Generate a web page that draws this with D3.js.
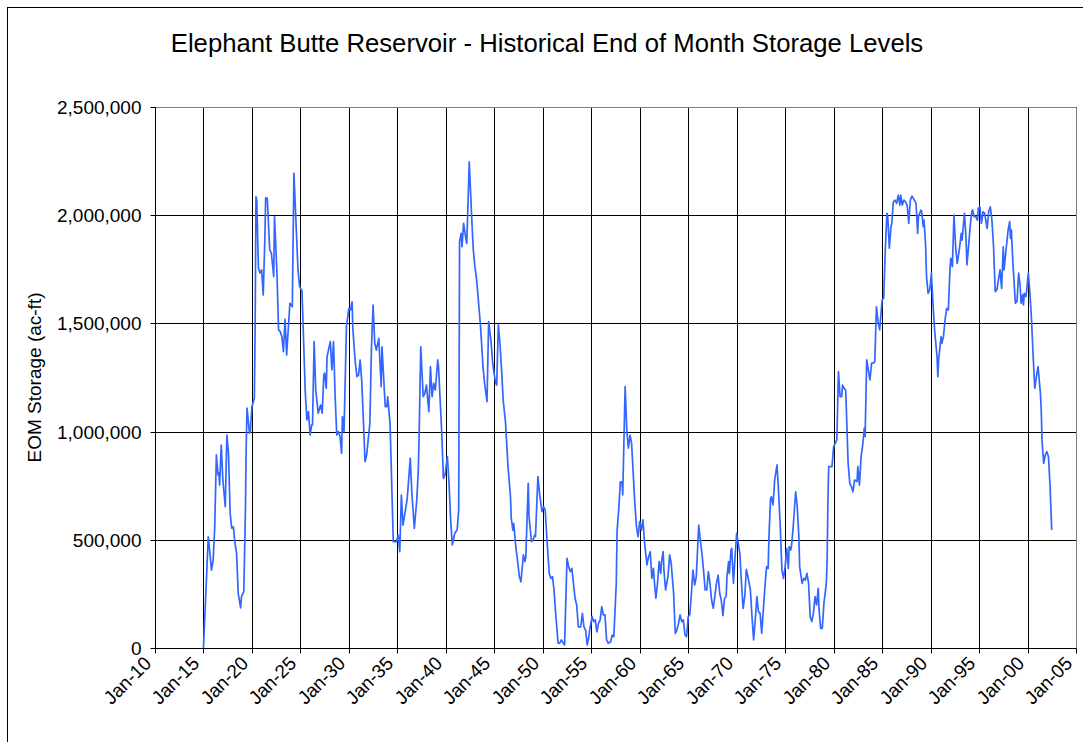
<!DOCTYPE html>
<html>
<head>
<meta charset="utf-8">
<script src="https://cdn.jsdelivr.net/npm/d3@7"></script>
<style>
  html, body { margin: 0; padding: 0; background: #fff; }
  svg { display: block; }
  text { font-family: "Liberation Sans", Arial, sans-serif; fill: #000; }
</style>
</head>
<body>
<svg id="chart" width="1083" height="742"></svg>
<script>
const title = "Elephant Butte Reservoir - Historical End of Month Storage Levels";
const yLabel = "EOM Storage (ac-ft)";
const yTicks = [0, 500000, 1000000, 1500000, 2000000, 2500000];
const xTickYears = [1910,1915,1920,1925,1930,1935,1940,1945,1950,1955,1960,1965,1970,1975,1980,1985,1990,1995,2000,2005];

// end-of-month dates (YYYY-MM)
const dates = [
"1915-01","1915-07","1915-11","1916-01","1916-03","1916-05","1916-07","1916-08","1916-09","1916-11",
"1917-01","1917-04","1917-06","1917-08","1917-10","1917-12","1918-02","1918-04","1918-06","1918-08",
"1918-11","1918-12","1919-03","1919-05","1919-06","1919-07","1919-10","1919-11","1920-01","1920-04",
"1920-05","1920-06","1920-07","1920-09","1920-11","1921-01","1921-03","1921-05","1921-06","1921-08",
"1921-11","1922-01","1922-04","1922-05","1922-08","1922-10","1922-12","1923-02","1923-04","1923-06",
"1923-08","1923-12","1924-03","1924-05","1924-10","1924-12","1925-03","1925-07","1925-09","1925-11",
"1926-01","1926-03","1926-04","1926-06","1926-08","1926-11","1927-02","1927-04","1927-06","1927-07",
"1927-09","1927-10","1928-02","1928-04","1928-06","1928-08","1928-10","1928-12","1929-02","1929-04",
"1929-05","1929-07","1929-10","1930-01","1930-03","1930-05","1930-06","1930-09","1930-11","1931-01",
"1931-03","1931-05","1931-07","1931-09","1931-11","1932-03","1932-05","1932-07","1932-09","1932-11",
"1933-02","1933-05","1933-06","1933-10","1933-12","1934-01","1934-04","1934-08","1934-12","1935-02",
"1935-04","1935-06","1935-08","1936-01","1936-02","1936-05","1936-07","1936-10","1937-01","1937-03",
"1937-04","1937-06","1937-09","1937-11","1938-01","1938-04","1938-06","1938-08","1938-10","1938-12",
"1939-03","1939-04","1939-08","1939-10","1939-12","1940-03","1940-05","1940-07","1940-09","1940-12",
"1941-03","1941-05","1941-06","1941-08","1941-09","1941-11","1942-02","1942-03","1942-05","1942-06",
"1942-09","1942-11","1943-01","1943-03","1943-05","1943-08","1943-11","1944-01","1944-04","1944-06",
"1944-09","1944-11","1945-01","1945-03","1945-04","1945-06","1945-08","1945-10","1945-12","1946-03",
"1946-06","1946-09","1946-10","1946-12","1947-01","1947-04","1947-05","1947-08","1947-10","1948-01",
"1948-03","1948-04","1948-07","1948-08","1948-11","1949-01","1949-03","1949-04","1949-07","1949-09",
"1949-12","1950-02","1950-04","1950-06","1950-09","1950-11","1951-01","1951-03","1951-05","1951-08",
"1951-10","1951-12","1952-02","1952-04","1952-07","1952-09","1952-11","1953-01","1953-03","1953-05",
"1953-07","1953-09","1953-12","1954-02","1954-04","1954-06","1954-08","1954-10","1954-11","1955-02",
"1955-04","1955-06","1955-08","1955-10","1955-12","1956-02","1956-04","1956-06","1956-08","1956-10",
"1957-01","1957-03","1957-05","1957-08","1957-09","1957-11","1958-01","1958-03","1958-04","1958-07",
"1958-09","1958-11","1959-01","1959-03","1959-05","1959-07","1959-09","1959-11","1960-01","1960-03",
"1960-05","1960-07","1960-10","1960-12","1961-02","1961-04","1961-06","1961-07","1961-09","1961-11",
"1962-01","1962-03","1962-04","1962-06","1962-07","1962-09","1962-12","1963-02","1963-04","1963-07",
"1963-09","1963-11","1964-01","1964-03","1964-05","1964-07","1964-09","1964-11","1965-01","1965-03",
"1965-05","1965-07","1965-09","1965-11","1966-02","1966-04","1966-06","1966-08","1966-10","1966-12",
"1967-02","1967-04","1967-06","1967-08","1967-10","1967-12","1968-02","1968-04","1968-06","1968-08",
"1968-10","1968-12","1969-01","1969-03","1969-04","1969-06","1969-07","1969-09","1969-11","1970-01",
"1970-03","1970-05","1970-07","1970-09","1970-11","1971-01","1971-03","1971-06","1971-08","1971-10",
"1971-12","1972-02","1972-04","1972-06","1972-08","1972-10","1972-12","1973-02","1973-04","1973-05",
"1973-07","1973-08","1973-10","1973-11","1973-12","1974-03","1974-05","1974-07","1974-09","1974-11",
"1975-01","1975-03","1975-05","1975-06","1975-08","1975-09","1975-11","1976-01","1976-02","1976-04",
"1976-06","1976-07","1976-10","1976-12","1977-02","1977-04","1977-06","1977-08","1977-10","1977-12",
"1978-02","1978-04","1978-06","1978-07","1978-09","1978-11","1979-01","1979-04","1979-05","1979-06",
"1979-07","1979-10","1979-11","1980-01","1980-03","1980-05","1980-07","1980-09","1980-11","1980-12",
"1981-02","1981-04","1981-07","1981-09","1981-11","1982-01","1982-03","1982-06","1982-07","1982-09",
"1982-11","1983-01","1983-03","1983-04","1983-06","1983-08","1983-10","1983-12","1984-02","1984-04",
"1984-06","1984-08","1984-10","1985-01","1985-03","1985-05","1985-07","1985-08","1985-10","1985-12",
"1986-01","1986-03","1986-05","1986-07","1986-09","1986-11","1986-12","1987-02","1987-04","1987-06",
"1987-08","1987-10","1987-12","1988-02","1988-05","1988-07","1988-09","1988-10","1989-01","1989-02",
"1989-04","1989-05","1989-07","1989-08","1989-10","1989-12","1990-02","1990-04","1990-06","1990-09",
"1990-10","1990-11","1991-02","1991-03","1991-05","1991-07","1991-09","1991-11","1992-01","1992-02",
"1992-04","1992-06","1992-08","1992-10","1992-11","1993-01","1993-03","1993-04","1993-07","1993-09",
"1993-10","1993-12","1994-02","1994-04","1994-05","1994-07","1994-09","1994-11","1994-12","1995-02",
"1995-04","1995-06","1995-08","1995-09","1995-11","1996-01","1996-03","1996-05","1996-07","1996-09",
"1996-11","1997-01","1997-03","1997-05","1997-07","1997-08","1997-10","1998-01","1998-03","1998-04",
"1998-05","1998-07","1998-10","1998-12","1999-02","1999-04","1999-05","1999-07","1999-08","1999-09",
"1999-11","1999-12","2000-02","2000-04","2000-06","2000-08","2000-10","2000-12","2001-02","2001-05",
"2001-06","2001-07","2001-09","2001-11","2002-01","2002-03","2002-05","2002-07"
];

// storage (acre-feet) at each date above
const storage = [
0,514000,360000,406000,560000,892000,800000,810000,753000,938000,
776000,653000,984000,900000,623000,554000,560000,485000,439000,254000,
185000,237000,260000,638000,947000,1109000,993000,1000000,1115000,1154000,
1485000,2085000,2070000,1756000,1733000,1747000,1631000,1885000,2081000,2078000,
1839000,1827000,1716000,1993000,1732000,1470000,1462000,1439000,1369000,1519000,
1354000,1593000,1577000,2194000,1747000,1670000,1650000,1185000,1054000,1092000,
984000,1031000,1031000,1416000,1192000,1085000,1123000,1085000,1262000,1270000,
1200000,1346000,1416000,1285000,1416000,1161000,984000,1000000,977000,900000,
1069000,1000000,1485000,1570000,1562000,1600000,1470000,1316000,1254000,1262000,
1331000,1231000,1054000,861000,892000,1038000,1392000,1585000,1408000,1377000,
1431000,1208000,1392000,1115000,1115000,1161000,1038000,491000,491000,522000,
445000,707000,568000,684000,730000,877000,715000,553000,684000,823000,
992000,1392000,1161000,1177000,1215000,1092000,1300000,1161000,1223000,1192000,
1331000,1300000,992000,784000,800000,884000,761000,592000,476000,530000,
545000,638000,1877000,1916000,1854000,1962000,1885000,1870000,2116000,2247000,
1993000,1839000,1762000,1708000,1623000,1485000,1300000,1223000,1138000,1508000,
1416000,1316000,1262000,1223000,1215000,1493000,1408000,1285000,1146000,1038000,
838000,700000,600000,545000,576000,453000,430000,330000,306000,430000,
399000,420000,761000,607000,491000,499000,522000,515000,792000,715000,
630000,653000,638000,514000,345000,322000,330000,268000,160000,22000,
22000,37000,25000,14000,414000,376000,353000,368000,299000,230000,
199000,98000,98000,160000,98000,83000,14000,52000,83000,145000,
122000,130000,75000,114000,129000,191000,153000,153000,37000,22000,
29000,60000,52000,299000,545000,638000,768000,768000,707000,1208000,
1007000,923000,984000,946000,807000,669000,561000,514000,584000,545000,
592000,484000,384000,422000,445000,322000,368000,314000,230000,299000,
399000,345000,399000,445000,361000,268000,330000,430000,391000,253000,
68000,83000,114000,153000,122000,130000,60000,52000,145000,153000,
253000,360000,291000,330000,568000,499000,438000,360000,268000,268000,
353000,299000,222000,183000,238000,299000,337000,253000,220000,150000,
230000,238000,330000,399000,345000,453000,460000,299000,422000,530000,
484000,438000,299000,183000,238000,363000,330000,268000,145000,37000,
130000,237000,168000,160000,68000,176000,283000,376000,368000,514000,
692000,699000,661000,715000,776000,846000,715000,561000,360000,322000,
376000,461000,368000,468000,453000,476000,561000,669000,722000,653000,
514000,376000,299000,322000,314000,345000,299000,145000,122000,160000,
237000,199000,276000,176000,91000,91000,207000,299000,400000,684000,
838000,838000,838000,930000,946000,961000,1277000,1161000,1161000,1215000,
1200000,1192000,853000,761000,746000,722000,776000,769000,838000,753000,
884000,938000,1015000,977000,1331000,1285000,1239000,1316000,1316000,1323000,
1577000,1508000,1470000,1608000,1616000,1839000,2009000,1993000,1847000,1947000,
1962000,2062000,2070000,2055000,2093000,2047000,2093000,2047000,2070000,2062000,
2047000,1962000,2070000,2088000,2070000,2055000,1916000,1993000,2024000,2016000,
1947000,1977000,1854000,1716000,1639000,1655000,1732000,1593000,1470000,1347000,
1254000,1331000,1439000,1408000,1439000,1516000,1570000,1562000,1747000,1801000,
1762000,2001000,1854000,1777000,1801000,1854000,1916000,1885000,2009000,1885000,
1770000,1854000,1947000,2016000,2024000,1993000,1993000,1977000,2032000,2039000,
1962000,2016000,2009000,1985000,1939000,2016000,2039000,1977000,1854000,1647000,
1655000,1701000,1747000,1662000,1854000,1747000,1824000,1932000,1970000,1893000,
1932000,1777000,1593000,1601000,1732000,1670000,1593000,1632000,1585000,1639000,
1624000,1655000,1732000,1639000,1516000,1347000,1200000,1254000,1300000,1177000,
1100000,961000,853000,892000,907000,884000,746000,545000
];

const svg = d3.select("#chart");
const plot = { left: 155, right: 1076, top: 107, bottom: 648 };

// outer chart-area frame (extends beyond the visible window)
svg.append("rect")
  .attr("x", 7.5).attr("y", 7.5).attr("width", 1100).attr("height", 760)
  .attr("fill", "#fff").attr("stroke", "#000").attr("stroke-width", 1);

const parse = d3.timeParse("%Y-%m");
const data = dates.map((d, i) => ({ date: parse(d), value: storage[i] }));

const x = d3.scaleTime()
  .domain([new Date(xTickYears[0], 0, 1), new Date(xTickYears[xTickYears.length - 1], 0, 1)])
  .range([plot.left, plot.right]);
const y = d3.scaleLinear()
  .domain([0, yTicks[yTicks.length - 1]])
  .range([plot.bottom, plot.top]);

const xTickDates = xTickYears.map(yr => new Date(yr, 0, 1));

// horizontal gridlines
svg.append("g").selectAll("line").data(yTicks.slice(1)).join("line")
  .attr("x1", plot.left).attr("x2", plot.right)
  .attr("y1", d => Math.round(y(d)) + 0.5).attr("y2", d => Math.round(y(d)) + 0.5)
  .attr("stroke", "#000").attr("stroke-width", 1);

// vertical gridlines
svg.append("g").selectAll("line").data(xTickDates.slice(1)).join("line")
  .attr("x1", d => Math.round(x(d)) + 0.5).attr("x2", d => Math.round(x(d)) + 0.5)
  .attr("y1", plot.top).attr("y2", plot.bottom)
  .attr("stroke", "#000").attr("stroke-width", 1);

// plot border top/right gray
svg.append("path")
  .attr("d", `M${plot.left},${plot.top + 0.5}H${plot.right + 0.5}V${plot.bottom}`)
  .attr("fill", "none").attr("stroke", "#808080").attr("stroke-width", 1);

// y axis
const yAxis = d3.axisLeft(y).tickValues(yTicks).tickFormat(d3.format(",")).tickSize(5).tickPadding(9);
const gy = svg.append("g").attr("transform", `translate(${plot.left + 0.5},0)`).call(yAxis);
gy.select(".domain").attr("stroke", "#000").attr("d", `M0,${plot.top}V${plot.bottom + 0.5}`);
gy.selectAll(".tick line").attr("stroke", "#000");
gy.selectAll(".tick text")
  .style("font-family", '"Liberation Sans", Arial, sans-serif')
  .style("font-size", "19px").attr("fill", "#000");
gy.selectAll(".tick").attr("transform", d => `translate(0,${Math.round(y(d)) + 0.5})`);

// x axis
const xAxis = d3.axisBottom(x).tickValues(xTickDates).tickFormat(d3.timeFormat("Jan-%y")).tickSize(5).tickPadding(0);
const gx = svg.append("g").attr("transform", `translate(0,${plot.bottom + 0.5})`).call(xAxis);
gx.select(".domain").attr("stroke", "#000").attr("d", `M${plot.left},0H${plot.right + 0.5}`);
gx.selectAll(".tick").attr("transform", d => `translate(${Math.round(x(d)) + 0.5},0)`);
gx.selectAll(".tick line").attr("stroke", "#000");
gx.selectAll(".tick text")
  .style("font-family", '"Liberation Sans", Arial, sans-serif')
  .style("font-size", "19px").attr("fill", "#000")
  .attr("text-anchor", "end")
  .attr("dy", null)
  .attr("y", null)
  .attr("transform", "translate(-3,16) rotate(-45)");

// data line
const line = d3.line().x(d => x(d.date)).y(d => y(d.value));
svg.append("path").datum(data)
  .attr("d", line)
  .attr("fill", "none")
  .attr("stroke", "#3366ff")
  .attr("stroke-width", 1.7)
  .attr("stroke-linejoin", "round");

// title
svg.append("text")
  .attr("x", 547).attr("y", 52)
  .attr("text-anchor", "middle")
  .style("font-size", "25.7px")
  .text(title);

// y label
svg.append("text")
  .attr("transform", `translate(41,${(plot.top + plot.bottom) / 2}) rotate(-90)`)
  .attr("text-anchor", "middle")
  .style("font-size", "19px")
  .text(yLabel);
</script>
</body>
</html>
